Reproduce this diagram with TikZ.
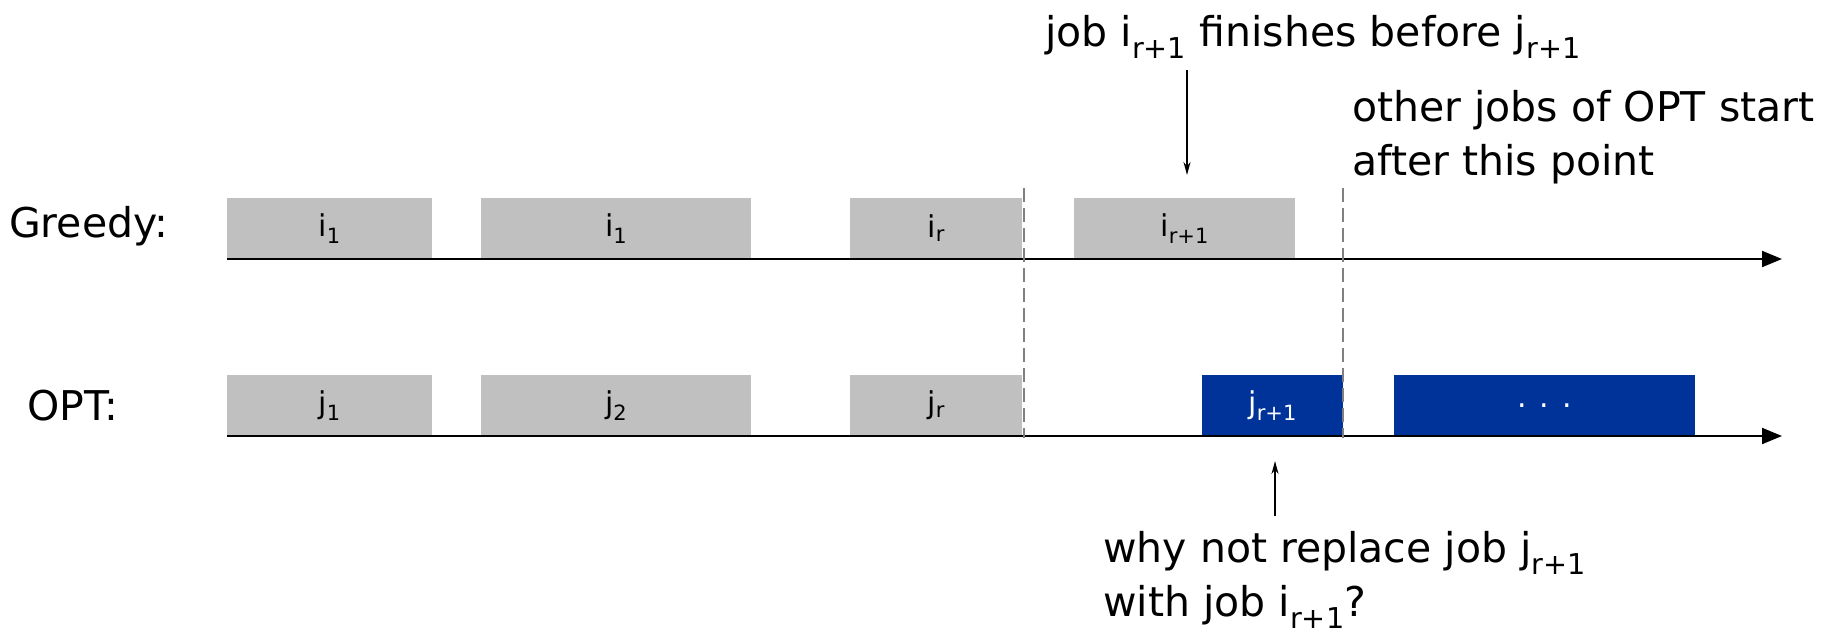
\documentclass[tikz,border=0pt]{standalone}
\usepackage{fontspec}
\setmainfont{DejaVu Sans}
\usetikzlibrary{arrows.meta}
\definecolor{jobgray}{RGB}{192,192,192}
\definecolor{jobblue}{RGB}{0,51,153}
\definecolor{guide}{RGB}{128,128,128}
\newcommand{\sbs}[1]{\textsubscript{#1}}
\tikzset{
  lbl/.style={font=\fontsize{41}{54}\selectfont, inner sep=0pt},
  boxtxt/.style={font=\fontsize{30}{36}\selectfont},
  gbox/.style={fill=jobgray, draw=none, inner sep=0pt, minimum height=61pt, anchor=south west, boxtxt},
  bbox/.style={gbox, fill=jobblue, text=white},
  axis/.style={line width=2pt, -{Triangle[length=20pt,width=16pt]}},
  guideline/.style={draw=guide, line width=1.2pt, dash pattern=on 14pt off 6pt},
  pointer/.style={line width=1.6pt, -{Stealth[length=13pt,width=7pt]}}
}
\begin{document}
\begin{tikzpicture}[x=1pt,y=-1pt]
\useasboundingbox (0,0) rectangle (1846,640);

% time axes
\coordinate (gstart) at (227,259);
\coordinate (gend) at (1782,259);
\coordinate (ostart) at (227,436);
\coordinate (oend) at (1782,436);

% row labels
\node[lbl, anchor=west] (greedy) at (9,226) {Greedy:};
\node[lbl, anchor=west] (opt) at (27,406) {OPT:};

% greedy schedule
\node[gbox, minimum width=205pt] (g1) at (227,259) {i\sbs{1}};
\node[gbox, minimum width=270pt] (g2) at (481,259) {i\sbs{1}};
\node[gbox, minimum width=172pt] (g3) at (850,259) {i\sbs{r}};
\node[gbox, minimum width=221pt] (g4) at (1074,259) {i\sbs{r+1}};

% optimal schedule
\node[gbox, minimum width=205pt] (o1) at (227,436) {j\sbs{1}};
\node[gbox, minimum width=270pt] (o2) at (481,436) {j\sbs{2}};
\node[gbox, minimum width=172pt] (o3) at (850,436) {j\sbs{r}};
\node[bbox, minimum width=141pt] (o4) at (1202,436) {j\sbs{r+1}};
\node[bbox, minimum width=301pt] (o5) at (1394,436) {. . .};

\draw[axis] (gstart) -- (gend);
\draw[axis] (ostart) -- (oend);

% guide lines
\coordinate (d1t) at (1024,188);
\coordinate (d1b) at (1024,438);
\coordinate (d2t) at (1343,188);
\coordinate (d2b) at (1343,438);
\draw[guideline] (d1t) -- (d1b);
\draw[guideline] (d2t) -- (d2b);

% annotations
\node[lbl] (finish) at (1313,37) {job i\sbs{r+1} finishes before j\sbs{r+1}};
\coordinate (finishtail) at (1187,70);
\coordinate (finishtip) at (1187,175);
\draw[pointer] (finishtail) -- (finishtip);

\node[lbl, anchor=north west, align=left] (other) at (1352,90) {other jobs of OPT start\\after this point};

\node[lbl, anchor=north west, align=left] (why) at (1103,531) {why not replace job j\sbs{r+1}\\with job i\sbs{r+1}?};
\coordinate (whytip) at (1275,461);
\coordinate (whytail) at (1275,516);
\draw[pointer] (whytail) -- (whytip);
\end{tikzpicture}
\end{document}
